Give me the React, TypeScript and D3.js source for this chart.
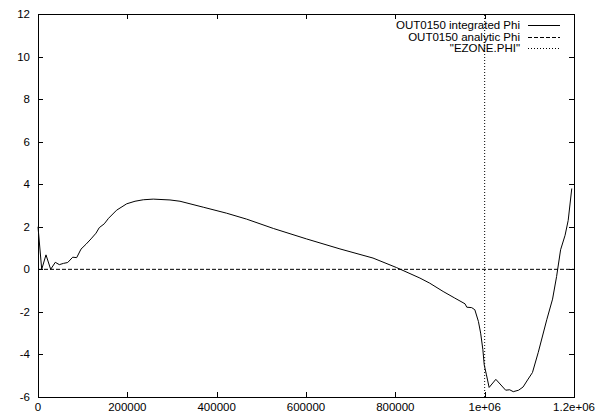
import React from "react";
import * as d3 from "d3";

const integratedX = [0, 8300, 17900, 28400, 38700, 47700, 57000, 66500, 77700, 86600, 96300, 107500, 118700, 129900, 137200, 148400, 158000, 176000, 198600, 217200, 235800, 258000, 295500, 317900, 370000, 422000, 467000, 527000, 601000, 676000, 750000, 803000, 855000, 877000, 907000, 933000, 956000, 960000, 971000, 978000, 986000, 991000, 996000, 999000, 1004000, 1010000, 1025000, 1047000, 1056000, 1064000, 1076000, 1086000, 1096000, 1107000, 1120000, 1139000, 1152000, 1161000, 1170000, 1180000, 1187000, 1195000];
const integratedPhi = [2.0, 0.0, 0.68, 0.0, 0.33, 0.22, 0.28, 0.32, 0.57, 0.55, 0.95, 1.18, 1.43, 1.7, 1.96, 2.14, 2.4, 2.78, 3.08, 3.2, 3.27, 3.3, 3.26, 3.2, 2.92, 2.64, 2.36, 1.92, 1.43, 0.96, 0.53, 0.08, -0.41, -0.65, -1.04, -1.35, -1.62, -1.78, -1.8, -1.9, -2.45, -3.0, -3.78, -4.49, -4.96, -5.55, -5.17, -5.68, -5.66, -5.75, -5.68, -5.53, -5.2, -4.85, -3.9, -2.37, -1.4, -0.34, 0.92, 1.6, 2.3, 3.8];
const analyticX = [0, 1200000];
const analyticPhi = [0, 0];
const ezoneX = [1000000, 1000000];
const ezonePhi = [-6, 12];

const xTicks = [0, 200000, 400000, 600000, 800000, 1000000, 1200000];
const xTickLabels = ["0", "200000", "400000", "600000", "800000", "1e+06", "1.2e+06"];
const yTicks = [-6, -4, -2, 0, 2, 4, 6, 8, 10, 12];
const legendLabels = ["OUT0150 integrated Phi", "OUT0150 analytic Phi", "\"EZONE.PHI\""];
const legendDashes = ["none", "4,2", "1,2"];

const W = 600, H = 413;
const L = 38, R = 574, T = 14, B = 397;
const FONT = "'Liberation Sans', Arial, Helvetica, sans-serif";

export default function App() {
  const x = d3.scaleLinear().domain([0, 1200000]).range([L, R]);
  const y = d3.scaleLinear().domain([-6, 12]).range([B, T]);
  const line = d3.line<[number, number]>().x(d => x(d[0])).y(d => y(d[1]));
  const pairs = (xs: number[], ys: number[]) => xs.map((v, i) => [v, ys[i]] as [number, number]);
  const tick = 5;
  return (
    <svg width={W} height={H} style={{ position: "absolute", left: 0, top: 0, background: "#fff" }}>
      <rect x={0} y={0} width={W} height={H} fill="#fff" />
      {/* ezone dotted */}
      <path d={line(pairs(ezoneX, ezonePhi)) || ""} fill="none" stroke="#000" strokeWidth={1} strokeDasharray="1,2" />
      {/* analytic dashed */}
      <path d={line(pairs(analyticX, analyticPhi)) || ""} fill="none" stroke="#000" strokeWidth={1} strokeDasharray="4,2" />
      {/* integrated */}
      <path d={line(pairs(integratedX, integratedPhi)) || ""} fill="none" stroke="#000" strokeWidth={1} />
      {/* ticks */}
      {yTicks.map(t => (
        <g key={"y" + t}>
          <line x1={L} x2={L + tick} y1={Math.round(y(t)) + 0.5} y2={Math.round(y(t)) + 0.5} stroke="#000" />
          <line x1={R - tick} x2={R} y1={Math.round(y(t)) + 0.5} y2={Math.round(y(t)) + 0.5} stroke="#000" />
          <text x={30} y={y(t)} textAnchor="end" dominantBaseline="central" fontFamily={FONT} fontSize={11.5} fill="#000">{t}</text>
        </g>
      ))}
      {xTicks.map((t, i) => (
        <g key={"x" + t}>
          <line x1={Math.round(x(t)) + 0.5} x2={Math.round(x(t)) + 0.5} y1={B} y2={B - tick} stroke="#000" />
          <line x1={Math.round(x(t)) + 0.5} x2={Math.round(x(t)) + 0.5} y1={T} y2={T + tick} stroke="#000" />
          <text x={x(t)} y={B + 9.5} textAnchor="middle" dominantBaseline="central" fontFamily={FONT} fontSize={11.5} fill="#000">{xTickLabels[i]}</text>
        </g>
      ))}
      {/* border */}
      <rect x={L + 0.5} y={T + 0.5} width={R - L} height={B - T} fill="none" stroke="#000" strokeWidth={1} />
      {/* legend */}
      {legendLabels.map((lab, i) => {
        const ly = 25 + i * 11.5;
        return (
          <g key={lab}>
            <text x={520} y={ly} textAnchor="end" dominantBaseline="central" fontFamily={FONT} fontSize={11.5} fill="#000">{lab}</text>
            <line x1={528} x2={560} y1={Math.round(ly) + 0.5} y2={Math.round(ly) + 0.5} stroke="#000" strokeDasharray={legendDashes[i]} />
          </g>
        );
      })}
    </svg>
  );
}
